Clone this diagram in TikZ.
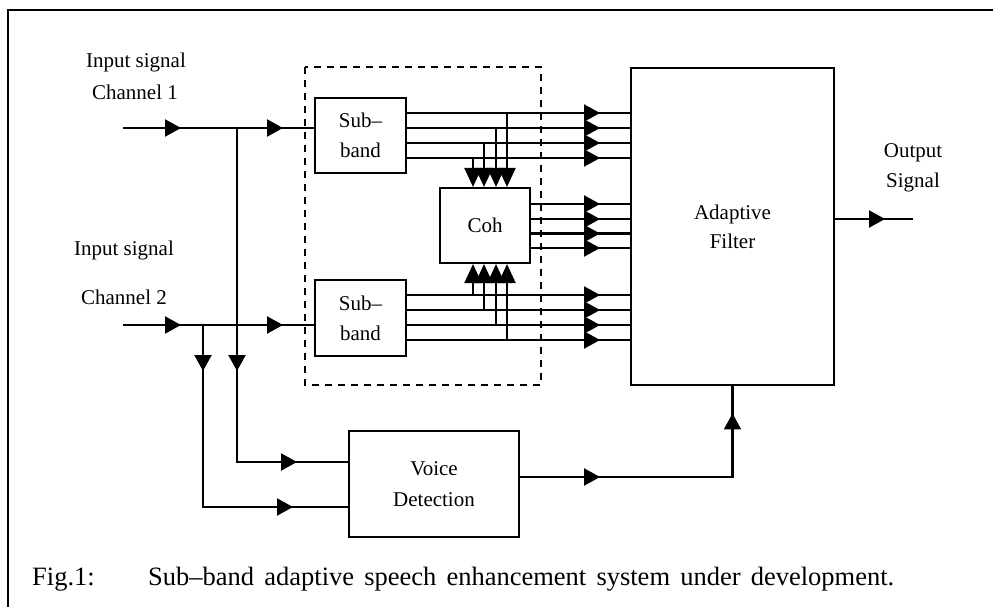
\documentclass[tikz,border=0pt]{standalone}
\usepackage{fontspec}
\setmainfont{Liberation Serif}
\usetikzlibrary{arrows.meta,decorations.markings}
\newcommand{\lblfont}{\fontsize{21}{30}\selectfont}
\newcommand{\capfont}{\fontsize{26.5}{30}\selectfont}
\begin{document}
\begin{tikzpicture}[x=1pt,y=-1pt,
  wire/.style={line width=2.1pt},
  box/.style={draw,line width=2.1pt,inner sep=0pt,align=center,font=\lblfont},
  lbl/.style={inner sep=0pt,font=\lblfont},
  mid/.style={postaction={decorate,decoration={markings,
      mark=at position #1 with {\arrow{Triangle[length=16pt,width=17pt]}}}}},
  tapend/.style={-{Triangle[length=19pt,width=17pt]}}]
\useasboundingbox (0,0) rectangle (993,607);
% frame
\draw[line width=2.6pt] (8,640) -- (8,10) -- (1010,10);
% dashed grouping box
\draw[line width=2pt,dash pattern=on 7pt off 6pt] (305,67) rectangle (541,385);
% blocks
\node[box,minimum width=91pt,minimum height=75pt] (sb1) at (360.5,135.5) {Sub–\\band};
\node[box,minimum width=91pt,minimum height=76pt] (sb2) at (360.5,318) {Sub–\\band};
\node[box,minimum width=90pt,minimum height=75pt] (coh) at (485,225.5) {Coh};
\node[box,minimum width=203pt,minimum height=317pt,font=\fontsize{21}{29}\selectfont] (af) at (732.5,226.5) {Adaptive\\Filter};
\node[box,minimum width=170pt,minimum height=106pt,font=\fontsize{21}{31}\selectfont] (vd) at (434,484) {Voice\\Detection};
% labels
\node[lbl] (l1a) at (136,62) {Input signal};
\node[lbl] (l1b) at (135,92) {Channel 1};
\node[lbl] (l2a) at (124,250) {Input signal};
\node[lbl] (l2b) at (124,297) {Channel 2};
\node[lbl] (o1) at (913,153) {Output};
\node[lbl] (o2) at (913,182) {Signal};
\node[anchor=base west,inner sep=0pt,font=\capfont] (fig) at (32,585) {Fig.1:};
\node[anchor=base west,inner sep=0pt,font=\capfont] (cap) at (148,585) {\makebox[746pt][s]{Sub–band adaptive speech enhancement system under development.}};
% coordinates
\coordinate (in1) at (123,128);
\coordinate (j1) at (237,128);
\coordinate (in2) at (123,325);
\coordinate (j2) at (203,325);
\coordinate (v1) at (237,462);
\coordinate (v2) at (203,507);
\coordinate (vo) at (732.5,477);
\coordinate (out) at (913,219);
% input wires
\draw[wire,mid=58pt] (in1) -- (j1);
\draw[wire,mid=46pt] (j1) -- (sb1.west |- j1);
\draw[wire,mid=58pt,mid=160pt] (in2) -- (j2) -- (sb2.west |- in2);
\draw[wire,mid=243pt,mid=394pt] (j1) -- (v1) -- (vd.west |- v1);
\draw[wire,mid=46pt,mid=272pt] (j2) -- (v2) -- (vd.west |- v2);
% voice detection to adaptive filter
\draw[wire,mid=80pt,mid=276pt] (vd.east |- vo) -- (vo) -- (af.south);
% output
\draw[wire,mid=50pt] (af.east |- out) -- (out);
% sub-band outputs
\foreach \y in {113,128,143,158}{
  \draw[wire,mid=193pt] (sb1.east |- 0,\y) -- (af.west |- 0,\y);}
\foreach \y in {295,310,325,340}{
  \draw[wire,mid=193pt] (sb2.east |- 0,\y) -- (af.west |- 0,\y);}
\foreach \y in {204,219,233.5,248}{
  \draw[wire,mid=69pt] (coh.east |- 0,\y) -- (af.west |- 0,\y);}
% taps to coherence block
\foreach \x/\y in {507/113,496/128,484/143,473/158}{
  \draw[wire,tapend] (\x,\y) -- (coh.north -| \x,0);}
\foreach \x/\y in {473/295,484/310,496/325,507/340}{
  \draw[wire,tapend] (\x,\y) -- (coh.south -| \x,0);}
\end{tikzpicture}
\end{document}
